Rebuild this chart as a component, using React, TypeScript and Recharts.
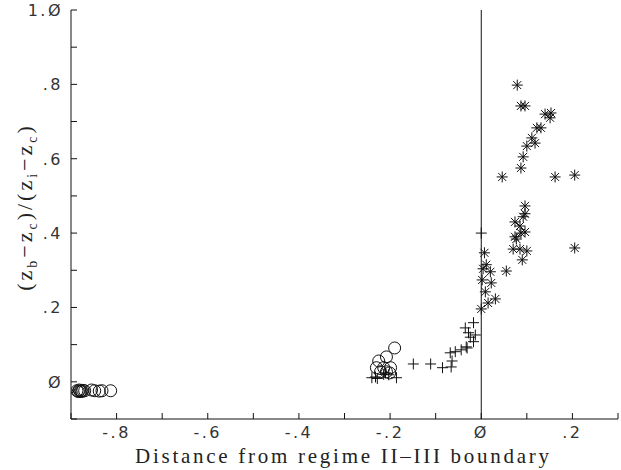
import { ScatterChart, Scatter, XAxis, YAxis, ReferenceLine } from "recharts";

// regime II (open circles), transition (plus), regime III (asterisks)
const circlePts: [number, number][] = [
  [-0.887, -0.024], [-0.884, -0.026], [-0.882, -0.022], [-0.880, -0.026], [-0.878, -0.024],
  [-0.876, -0.026], [-0.874, -0.023], [-0.870, -0.024], [-0.855, -0.022], [-0.848, -0.024],
  [-0.838, -0.025], [-0.832, -0.024], [-0.813, -0.024],
  [-0.190, 0.091], [-0.208, 0.067], [-0.225, 0.056], [-0.230, 0.038], [-0.214, 0.038],
  [-0.199, 0.038], [-0.221, 0.027], [-0.208, 0.027], [-0.201, 0.024],
];

const plusPts: [number, number][] = [
  [-0.240, 0.011], [-0.232, 0.013], [-0.228, 0.009], [-0.210, 0.024], [-0.203, 0.019],
  [-0.214, 0.020], [-0.186, 0.011], [-0.149, 0.048], [-0.111, 0.048], [-0.085, 0.038],
  [-0.066, 0.040], [-0.064, 0.056], [-0.068, 0.078], [-0.057, 0.081], [-0.044, 0.086],
  [-0.031, 0.091], [-0.033, 0.094], [-0.035, 0.145], [-0.017, 0.159], [-0.028, 0.132],
  [-0.013, 0.126], [-0.017, 0.108], [-0.024, 0.120], [0.000, 0.400],
];

const starPts: [number, number][] = [
  [0.000, 0.196], [0.015, 0.212], [0.031, 0.223], [0.009, 0.242], [0.022, 0.266],
  [0.002, 0.274], [0.020, 0.296], [0.004, 0.304], [0.011, 0.315], [0.007, 0.347],
  [0.055, 0.298], [0.074, 0.390], [0.087, 0.400], [0.070, 0.357], [0.085, 0.357],
  [0.100, 0.352], [0.090, 0.328], [0.077, 0.384], [0.085, 0.419], [0.096, 0.403],
  [0.074, 0.430], [0.092, 0.444], [0.096, 0.452], [0.096, 0.473], [0.205, 0.360],
  [0.046, 0.551], [0.162, 0.551], [0.205, 0.556], [0.087, 0.575], [0.092, 0.605],
  [0.100, 0.634], [0.118, 0.642], [0.111, 0.656], [0.122, 0.683], [0.131, 0.683],
  [0.140, 0.720], [0.153, 0.723], [0.151, 0.710], [0.087, 0.742], [0.096, 0.742],
  [0.079, 0.798],
];

const xTicks = [-0.9, -0.8, -0.7, -0.6, -0.5, -0.4, -0.3, -0.2, -0.1, 0, 0.1, 0.2, 0.3];
const yTicks = [-0.1, 0, 0.1, 0.2, 0.3, 0.4, 0.5, 0.6, 0.7, 0.8, 0.9, 1.0];
const xLabels: Record<string, string> = { "-0.8": "-.8", "-0.6": "-.6", "-0.4": "-.4", "-0.2": "-.2", "0": "Ø", "0.2": ".2" };
const yLabels: Record<string, string> = { "0": "Ø", "0.2": ".2", "0.4": ".4", "0.6": ".6", "0.8": ".8", "1": "1.Ø" };

const toRows = (pts: [number, number][]) => pts.map(([x, y]) => ({ x, y }));

const INK = "#111";
const TICK = 6;
const tickFont = { fontFamily: "DejaVu Sans", fontSize: 16, fill: "#333", letterSpacing: 2.5 };

function BottomTick({ x, y, payload }: any) {
  const lab = xLabels[String(Math.round(payload.value * 10) / 10)];
  return (
    <g>
      <line x1={x} y1={y} x2={x} y2={y - TICK} stroke={INK} />
      {lab && <text x={x} y={y + 19} textAnchor="middle" {...tickFont}>{lab}</text>}
    </g>
  );
}
function TopTick({ x, y }: any) {
  return <line x1={x} y1={y} x2={x} y2={y + TICK} stroke={INK} />;
}
function LeftTick({ x, y, payload }: any) {
  const lab = yLabels[String(Math.round(payload.value * 10) / 10)];
  return (
    <g>
      <line x1={x} y1={y} x2={x + TICK} y2={y} stroke={INK} />
      {lab && <text x={x - 8} y={y + 6} textAnchor="end" {...tickFont}>{lab}</text>}
    </g>
  );
}
function RightTick({ x, y }: any) {
  return <line x1={x} y1={y} x2={x - TICK} y2={y} stroke={INK} />;
}

function Circle({ cx, cy }: any) {
  return <circle cx={cx} cy={cy} r={6} fill="none" stroke={INK} strokeWidth={1} />;
}
function Plus({ cx, cy }: any) {
  const s = 5.5;
  return <path d={`M${cx - s},${cy}H${cx + s}M${cx},${cy - s}V${cy + s}`} stroke={INK} strokeWidth={1} />;
}
function Star({ cx, cy }: any) {
  const s = 5.5, d = 4;
  return (
    <path
      d={`M${cx - s},${cy}H${cx + s}M${cx},${cy - s}V${cy + s}M${cx - d},${cy - d}L${cx + d},${cy + d}M${cx - d},${cy + d}L${cx + d},${cy - d}`}
      stroke={INK}
      strokeWidth={1}
    />
  );
}

export default function App() {
  return (
    <div style={{ position: "absolute", left: 0, top: 0, width: 621, height: 470, background: "#fff" }}>
      <ScatterChart width={621} height={470} margin={{ top: 10, right: 3, left: 0, bottom: 0 }}>
        <XAxis xAxisId="b" type="number" dataKey="x" domain={[-0.9, 0.3]} ticks={xTicks} allowDataOverflow
          height={51} tickSize={0} tickMargin={0} axisLine={{ stroke: INK }} tick={<BottomTick />} interval={0} />
        <XAxis xAxisId="t" orientation="top" type="number" dataKey="x" domain={[-0.9, 0.3]} ticks={xTicks} allowDataOverflow
          height={0} tickSize={0} tickMargin={0} axisLine={{ stroke: INK }} tick={<TopTick />} interval={0} />
        <YAxis yAxisId="l" type="number" dataKey="y" domain={[-0.1, 1.0]} ticks={yTicks} allowDataOverflow
          width={71} tickSize={0} tickMargin={0} axisLine={{ stroke: INK }} tick={<LeftTick />} interval={0} />
        <YAxis yAxisId="r" orientation="right" type="number" dataKey="y" domain={[-0.1, 1.0]} ticks={yTicks} allowDataOverflow
          width={0} tickSize={0} tickMargin={0} axisLine={{ stroke: INK }} tick={<RightTick />} interval={0} />
        <ReferenceLine xAxisId="b" yAxisId="l" x={0} stroke={INK} />
        <Scatter xAxisId="b" yAxisId="l" data={toRows(circlePts)} shape={<Circle />} isAnimationActive={false} />
        <Scatter xAxisId="b" yAxisId="l" data={toRows(plusPts)} shape={<Plus />} isAnimationActive={false} />
        <Scatter xAxisId="b" yAxisId="l" data={toRows(starPts)} shape={<Star />} isAnimationActive={false} />
        <text x={342} y={463} textAnchor="middle" fontFamily="Liberation Serif" fontSize={21} fill="#222"
          textLength={414} lengthAdjust="spacing">
          Distance from regime II–III boundary
        </text>
        <text transform="translate(32,207) rotate(-90)" textAnchor="middle" fontFamily="Liberation Serif" fontSize={22} fill="#222"
          letterSpacing={3}>
          (z<tspan fontSize={14} dy={5}>b</tspan><tspan dy={-5}>−z</tspan><tspan fontSize={14} dy={5}>c</tspan>
          <tspan dy={-5}>)/(z</tspan><tspan fontSize={14} dy={5}>i</tspan><tspan dy={-5}>−z</tspan>
          <tspan fontSize={14} dy={5}>c</tspan><tspan dy={-5}>)</tspan>
        </text>
      </ScatterChart>
    </div>
  );
}
